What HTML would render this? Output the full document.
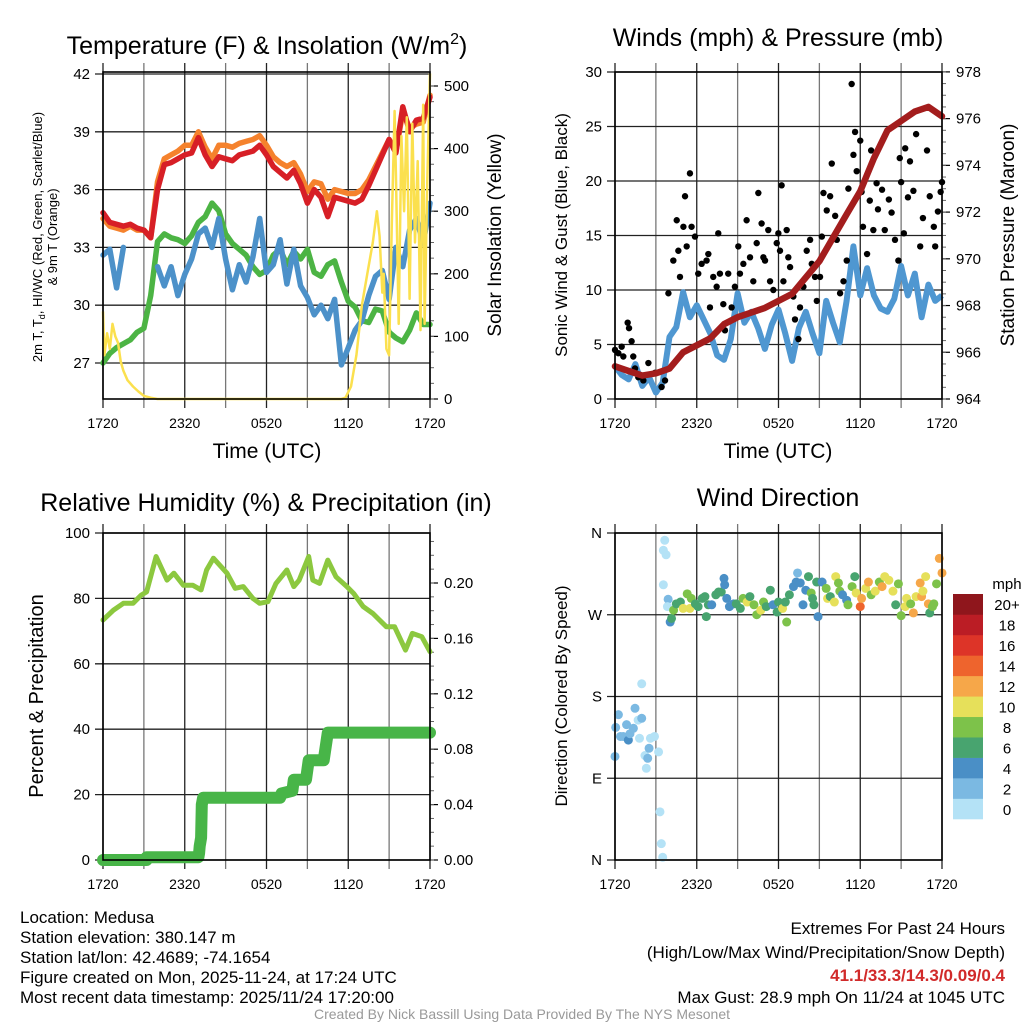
<!DOCTYPE html>
<html><head><meta charset="utf-8"><style>
html,body{margin:0;padding:0;background:#fff;}
svg{display:block;font-family:"Liberation Sans",Arial,sans-serif;}
</style></head><body>
<svg id="fig" width="1024" height="1024" viewBox="0 0 1024 1024" xmlns="http://www.w3.org/2000/svg">
<rect width="1024" height="1024" fill="#fff"/>
<g id="p1"></g>
<g id="p2"></g>
<g id="p3"></g>
<g id="p4"></g>
<text x="267" y="54" font-size="25" text-anchor="middle">Temperature (F) &amp; Insolation (W/m<tspan dy="-10" font-size="16">2</tspan><tspan dy="10">)</tspan></text>
<text x="778" y="46" font-size="25" text-anchor="middle">Winds (mph) &amp; Pressure (mb)</text>
<text x="266" y="511" font-size="25" text-anchor="middle">Relative Humidity (%) &amp; Precipitation (in)</text>
<text x="778" y="506" font-size="25" text-anchor="middle">Wind Direction</text>
<text x="267" y="458" font-size="21" text-anchor="middle">Time (UTC)</text>
<text x="778" y="458" font-size="21" text-anchor="middle">Time (UTC)</text>
<text transform="translate(42,237) rotate(-90)" font-size="13" text-anchor="middle">2m T, T<tspan font-size="9" dy="3">d</tspan><tspan dy="-3">, HI/WC (Red, Green, Scarlet/Blue)</tspan></text>
<text transform="translate(57,237) rotate(-90)" font-size="13" text-anchor="middle">&amp; 9m T (Orange)</text>
<text transform="translate(501,235) rotate(-90)" font-size="19" text-anchor="middle">Solar Insolation (Yellow)</text>
<text transform="translate(567,235) rotate(-90)" font-size="17" text-anchor="middle">Sonic Wind &amp; Gust (Blue, Black)</text>
<text transform="translate(1014,235) rotate(-90)" font-size="19" text-anchor="middle">Station Pressure (Maroon)</text>
<text transform="translate(43,696) rotate(-90)" font-size="20" text-anchor="middle">Percent &amp; Precipitation</text>
<text transform="translate(567,696) rotate(-90)" font-size="17" text-anchor="middle">Direction (Colored By Speed)</text>
<g id="cbar"></g>
<text x="1007" y="589" font-size="15" text-anchor="middle">mph</text>
<g font-size="17">
<text x="20" y="923">Location: Medusa</text>
<text x="20" y="943">Station elevation: 380.147 m</text>
<text x="20" y="963">Station lat/lon: 42.4689; -74.1654</text>
<text x="20" y="983">Figure created on Mon, 2025-11-24, at 17:24 UTC</text>
<text x="20" y="1003">Most recent data timestamp: 2025/11/24 17:20:00</text>
</g>
<g font-size="17" text-anchor="end">
<text x="1005" y="934">Extremes For Past 24 Hours</text>
<text x="1005" y="958">(High/Low/Max Wind/Precipitation/Snow Depth)</text>
<text x="1005" y="981" fill="#d12a2a" font-weight="bold">41.1/33.3/14.3/0.09/0.4</text>
<text x="1005" y="1003">Max Gust: 28.9 mph On 11/24 at 1045 UTC</text>
</g>
<text x="522" y="1019" font-size="14" fill="#999" text-anchor="middle">Created By Nick Bassill Using Data Provided By The NYS Mesonet</text>
</svg>
<script>
// ---- data ----
var halfHours = [0,0.5,1,1.5,2,2.5,3,3.5,4,4.5,5,5.5,6,6.5,7,7.5,8,8.5,9,9.5,10,10.5,11,11.5,12,12.5,13,13.5,14,14.5,15,15.5,16,16.5,17,17.5,18,18.5,19,19.5,20,20.5,21,21.5,22,22.5,23,23.5,24];
var timeTickLabels = ["1720","2320","0520","1120","1720"];
var timeTickHours = [0,6,12,18,24];
var tempRed = [34.8,34.3,34.2,34.1,34.2,34.0,33.9,33.5,36.0,37.3,37.4,37.6,37.8,37.9,38.7,37.8,37.2,37.7,37.6,37.5,37.8,37.9,38.0,38.3,37.8,37.2,36.9,36.6,37.0,36.3,35.3,36.0,35.6,34.6,35.6,35.5,35.4,35.3,35.5,36.2,37.0,37.8,38.6,37.9,40.3,39.0,39.6,39.7,40.8];
var tempOrange = [34.5,34.1,34.0,33.9,34.1,33.9,33.9,33.5,36.4,37.6,37.8,38.0,38.3,38.3,39.0,38.2,37.6,38.3,38.3,38.2,38.4,38.5,38.6,38.8,38.3,37.7,37.4,37.2,37.4,36.8,35.9,36.4,36.3,35.5,36.0,35.9,35.8,35.8,36.0,36.5,37.2,37.9,38.6,38.0,40.0,39.2,39.4,39.5,40.9];
var tempGreen = [27.0,27.5,27.8,28.0,28.2,28.6,28.8,30.5,33.3,33.7,33.5,33.4,33.2,33.6,34.3,34.6,35.3,34.9,33.7,33.2,32.9,32.6,32.0,31.6,31.8,32.6,32.9,32.1,32.8,32.4,32.9,31.7,31.5,32.1,32.3,31.2,30.2,29.9,29.2,29.1,29.8,29.7,28.6,28.3,28.1,28.7,29.6,29.0,29.0];
var tempBlue = [32.6,32.9,30.9,33.0,null,null,null,null,32.0,31.0,32.0,30.5,31.6,32.4,33.7,34.0,33.0,34.5,32.4,30.8,32.1,31.2,32.5,34.5,31.7,32.1,33.4,31.1,32.9,31.0,30.4,29.5,30.0,29.3,30.3,26.9,27.8,28.7,29.2,30.5,31.5,31.8,30.3,33.0,32.0,33.9,34.5,33.2,35.3];
var solarHours = [0,0.1,0.3,0.5,0.7,0.9,1.1,1.3,1.5,1.8,2.2,2.6,3.0,3.5,4.0,17.5,17.8,18.2,18.6,19.0,19.4,19.8,20.1,20.3,20.5,20.6,20.8,21.0,21.2,21.4,21.5,21.7,21.9,22.1,22.3,22.5,22.7,22.9,23.1,23.3,23.5,23.6,23.8,24];
var solarVals = [140,70,105,80,120,100,90,60,45,30,20,12,5,2,0,0,2,20,70,150,200,250,300,260,170,200,80,70,280,460,360,120,420,300,450,160,440,250,380,110,470,120,350,520];
var tempTicks = [27,30,33,36,39,42];
var solarTicks = [0,100,200,300,400,500];
var windVals = [3.0,2.2,1.8,3.2,1.2,2.0,0.6,1.5,5.7,6.6,9.8,7.5,8.6,7.3,6.0,4.0,3.6,5.5,9.7,7.0,8.0,6.5,4.6,6.8,8.2,6.0,3.5,6.5,8.0,6.0,4.2,9.0,7.0,5.2,9.0,14.0,9.5,12.0,9.5,8.3,8.0,9.2,12.2,9.5,11.5,7.5,10.5,9.0,9.5];
var pressHours = [0,1,2,3,4,5,6,7,8,9,10,11,12,13,14,15,16,17,18,19,20,21,22,23,24];
var pressVals = [965.4,965.2,965.0,965.1,965.3,966.0,966.3,966.6,967.2,967.5,967.7,967.9,968.2,968.5,969.2,969.9,970.9,971.9,972.9,974.3,975.5,975.9,976.3,976.5,976.1];
var gustHours = [0,0.25,0.49,0.61,0.93,1.03,1.22,1.34,1.47,1.71,2.08,2.45,2.93,3.42,3.67,3.92,4.28,4.53,4.65,4.77,5.02,5.14,5.26,5.5,5.62,5.87,6.11,6.36,6.72,6.85,6.97,7.21,7.46,7.58,7.7,7.95,8.07,8.31,8.56,8.8,9.05,9.17,9.42,9.66,9.91,10.15,10.4,10.52,10.76,10.89,11.01,11.25,11.38,11.62,11.87,11.99,12.11,12.23,12.36,12.6,12.72,12.85,13.09,13.21,13.46,13.58,13.83,14.07,14.32,14.44,14.68,14.81,15.05,15.18,15.3,15.54,15.79,15.91,16.16,16.28,16.52,16.77,17.01,17.13,17.37,17.5,17.62,17.74,18.0,18.1,18.2,18.5,18.7,18.8,18.96,19.2,19.3,19.6,19.8,20.1,20.3,20.55,20.8,20.9,21.0,21.2,21.3,21.5,21.65,21.9,22.1,22.4,22.6,22.9,23.1,23.4,23.5,23.7,23.9,24];
var gustVals = [4.5,4.2,4.8,3.9,7.0,6.5,5.3,3.9,2.8,2.0,1.7,3.3,2.4,1.1,1.7,9.7,12.7,16.4,13.6,11.2,15.8,18.6,14.0,20.7,15.8,14.9,11.5,12.4,12.7,13.3,8.4,11.2,10.3,15.2,11.5,8.7,6.3,11.5,8.4,10.3,14.0,11.5,12.4,16.4,13.0,10.8,14.3,18.9,16.1,13.0,12.7,15.5,10.8,10.0,14.3,15.2,13.6,19.6,10.8,15.5,13.0,12.1,9.4,7.3,5.5,8.4,10.3,13.6,14.6,12.4,11.2,9.0,11.2,14.9,18.9,17.3,18.6,21.6,16.8,14.6,9.7,10.8,12.7,19.3,28.9,22.4,24.5,20.9,23.7,19.0,15.8,13.3,18.2,22.8,15.5,19.8,17.4,19.2,15.5,18.3,17.1,14.6,12.7,22.1,19.9,15.2,23.0,18.5,21.8,19.1,24.3,14.0,16.6,22.8,18.6,15.8,14.0,17.2,19.0,19.9];
var windTicks = [0,5,10,15,20,25,30];
var pressTicks = [964,966,968,970,972,974,976,978];
var rhHours = [0,0.76,1.5,2.2,2.8,3.2,3.9,4.7,5.2,5.9,6.6,7.2,7.6,8.1,9.1,9.7,10.3,11,11.5,12.1,12.7,13.5,14,14.4,15.1,15.4,15.9,16.5,17.1,17.9,18.4,19.1,19.8,20.8,21.4,22.2,22.7,23.4,24];
var rhVals = [73.4,76.4,78.5,78.5,81,82,92.8,85.6,87.7,84,84,82.6,88.7,92.3,87.7,83.1,83.6,80,78.5,79,84.6,88.7,83.6,85.6,92.8,85.6,84.6,91.7,86.6,83.6,81.5,77.5,75.4,71.3,71.3,64.2,69.3,68.3,63.7];
var precipHours = [0,3.2,3.2,7.0,7.05,7.1,7.2,7.25,7.35,13.0,13.1,13.9,14.0,14.9,15.1,16.2,16.5,24];
var precipVals = [0,0,0.002,0.002,0.005,0.01,0.016,0.04,0.045,0.045,0.048,0.05,0.058,0.058,0.072,0.072,0.092,0.092];
var rhTicks = [0,20,40,60,80,100];
var precipTicks = ["0.00","0.04","0.08","0.12","0.16","0.20"];
var dirHours = [0,0.05,0.25,0.4,0.6,0.85,0.98,1.1,1.35,1.47,1.7,1.8,1.96,1.96,2.2,2.3,2.4,2.5,2.6,2.9,3.2,3.3,3.4,3.5,3.55,3.65,3.75,3.55,3.9,3.85,4.05,4.15,4.3,4.5,4.8,5.0,5.3,5.5,5.6,5.9,6.1,6.4,6.6,6.7,6.85,7.1,7.4,7.6,7.8,8.0,8.05,8.2,8.4,8.7,8.9,9.2,9.4,9.7,9.9,10.2,10.4,10.7,10.9,11.1,11.4,11.6,11.9,12.0,12.3,12.5,12.6,12.8,13.1,13.3,13.4,13.6,13.8,14.0,14.2,14.4,14.5,14.6,14.8,14.9,15.2,15.5,15.6,15.8,16.1,16.2,16.4,16.5,16.7,17.0,17.1,17.4,17.6,17.7,18.0,18.1,18.4,18.6,18.8,19.1,19.4,19.6,19.8,20.1,20.4,20.6,20.8,21.0,21.3,21.4,21.7,21.9,22.1,22.4,22.5,22.6,22.8,23.0,23.1,23.3,23.4,23.6,23.8,24.0];
var dirVals = [114,146,160,136,136,149,132,139,145,167,154,134,194,156,115,101,112,123,134,136,119,53,18,3,341,352,336,303,287,279,262,266,275,282,284,277,293,277,288,282,279,288,290,268,281,281,292,295,295,310,303,288,279,282,282,277,288,284,290,281,270,275,284,279,297,281,273,284,277,284,262,292,301,306,316,305,281,297,312,294,288,281,306,268,306,299,288,290,284,312,305,296,292,286,281,301,312,294,279,288,299,306,292,296,306,301,312,308,296,281,304,269,279,288,282,272,290,305,290,296,312,282,272,279,282,304,332,316,327,323];
var dirSpeeds = [3,2,2,2,2,3,4,3,2,2,1,1,1,2,1,0,3,3,1,0,1,0,0,0,0,0,1,1,3,1,5,6,8,7,6,10,8,10,8,7,6,6,6,6,7,5,7,7,6,4,4,4,4,5,6,7,8,10,7,8,8,10,8,6,6,5,6,7,10,7,8,6,4,4,3,4,4,5,6,8,7,6,6,4,4,8,10,6,10,10,8,9,4,5,8,8,7,10,14,12,10,12,8,10,8,12,10,10,10,7,8,8,10,10,8,12,10,12,12,10,10,12,6,8,8,8,12,12,7,10,10,10];
var dirTickLabels = ["N","E","S","W","N"];
var dirTickVals = [0,90,180,270,360];
var speedBins = ["0","2","4","6","8","10","12","14","16","18","20+"];
var speedColors = ["#b4e2f6","#7bb9e2","#4a8fc6","#48a46f","#7dc24a","#e6e05a","#f6a749","#ee642d","#dd3428","#bb1d25","#8f161c"];

// ---- helpers ----
var NS = "http://www.w3.org/2000/svg";
function mk(parent, tag, attrs){ var e=document.createElementNS(NS,tag); for(var k in attrs){e.setAttribute(k,attrs[k]);} parent.appendChild(e); return e; }
function xScale(x0,w){ return function(h){ return x0 + h/24*w; }; }
function yScale(y0,y1,v0,v1){ return function(v){ return y0 + (v-v0)/(v1-v0)*(y1-y0); }; }
function pathD(xs,ys,fx,fy){ var d="",pen=false; for(var i=0;i<xs.length;i++){ if(ys[i]===null){pen=false;continue;} d+=(pen?"L":"M")+fx(xs[i]).toFixed(1)+","+fy(ys[i]).toFixed(1); pen=true;} return d; }

function frame(g, x0, y0, w, h, fx, hTicksY, leftLabels, leftYs){
  for(var k=0;k<=8;k++){
    var x=fx(k*3);
    var gl=mk(g,"line",{x1:x,y1:y0-9,x2:x,y2:y0+h+9,stroke:(k%2? "#777":"#222"),"stroke-width":1.3});
    
    
  }
  for(var i=0;i<hTicksY.length;i++){
    var hl=mk(g,"line",{x1:x0-8,y1:hTicksY[i],x2:x0+w,y2:hTicksY[i],stroke:"#222","stroke-width":1.3});
    
    
  }
  for(var j=0;j<leftLabels.length;j++){
    var t=mk(g,"text",{x:x0-13,y:leftYs[j]+5,"font-size":15,"text-anchor":"end"});
    t.textContent=leftLabels[j];
    
    
  }
  for(var m=0;m<timeTickHours.length;m++){
    var tl=mk(g,"text",{x:fx(timeTickHours[m]),y:y0+h+29,"font-size":14,"text-anchor":"middle"});
    tl.textContent=timeTickLabels[m];
    
    
  }
}
function border(g,x0,y0,w,h){
  var b=mk(g,"rect",{x:x0,y:y0,width:w,height:h,fill:"none",stroke:"#000","stroke-width":1.6});
  
  
}
function rightAxis(g,x,ys,labels,minorYs){
  for(var i=0;i<ys.length;i++){
    mk(g,"line",{x1:x,y1:ys[i],x2:x+8,y2:ys[i],stroke:"#000","stroke-width":1.2});
    var t=mk(g,"text",{x:x+14,y:ys[i]+5,"font-size":15});
    t.textContent=labels[i];
    
    
  }
  for(var j=0;j<minorYs.length;j++){ mk(g,"line",{x1:x,y1:minorYs[j],x2:x+4,y2:minorYs[j],stroke:"#666","stroke-width":1}); }
}

// ---- Panel 1 ----
(function(){
  var g=document.getElementById("p1"), x0=103,y0=72,w=327,h=327;
  var fx=xScale(x0,w), fy=yScale(74,363,42,27), fs=yScale(399,86,0,500);
  var ys=tempTicks.map(fy);
  frame(g,x0,y0,w,h,fx,ys,tempTicks,ys);
  var minor=[]; for(var v=0;v<=520;v+=25){ minor.push(fs(v)); }
  rightAxis(g,x0+w,solarTicks.map(fs),solarTicks,minor);
  var series=[[tempOrange,"#f5822d","orange-9m-temp-line"],[tempRed,"#d71f26","red-2m-temp-line"],[tempGreen,"#4cb444","green-hiwc-line"],[tempBlue,"#4c91c9","blue-dewpoint-line"]];
  series.forEach(function(s){
    var p=mk(g,"path",{d:pathD(halfHours,s[0],fx,fy),fill:"none",stroke:s[1],"stroke-width":5.5,"stroke-linejoin":"round","stroke-linecap":"round"});
    
    
  });
  var sp=mk(g,"path",{d:pathD(solarHours,solarVals,fx,fs),fill:"none",stroke:"#fbe04e","stroke-width":2.5,"stroke-linejoin":"round"});
  
  
  border(g,x0,y0,w,h);
})();

// ---- Panel 2 ----
(function(){
  var g=document.getElementById("p2"), x0=615,y0=72,w=327,h=327;
  var fx=xScale(x0,w), fy=yScale(399,72,0,30), fp=yScale(399,71.9,964,978);
  var ys=windTicks.map(fy);
  frame(g,x0,y0,w,h,fx,ys,windTicks,ys);
  var minor=[]; for(var v=964;v<=978;v+=0.5){ minor.push(fp(v)); }
  rightAxis(g,x0+w,pressTicks.map(fp),pressTicks,minor);
  var wl=mk(g,"path",{d:pathD(halfHours,windVals,fx,fy),fill:"none",stroke:"#4f97d1","stroke-width":6,"stroke-linejoin":"round"});
  
  
  for(var i=0;i<gustHours.length;i++){
    var c=mk(g,"circle",{cx:fx(gustHours[i]),cy:fy(gustVals[i]),r:3.2,fill:"#000"});
    
    
  }
  var pl=mk(g,"path",{d:pathD(pressHours,pressVals,fx,fp),fill:"none",stroke:"#a31d1d","stroke-width":6.5,"stroke-linejoin":"round","stroke-linecap":"round"});
  
  
  border(g,x0,y0,w,h);
})();

// ---- Panel 3 ----
(function(){
  var g=document.getElementById("p3"), x0=103,y0=533,w=327,h=327;
  var fx=xScale(x0,w), fy=yScale(860,533,0,100), fp=yScale(860,583,0,0.2);
  var ys=rhTicks.map(fy);
  frame(g,x0,y0,w,h,fx,ys,rhTicks,ys);
  var minor=[]; for(var v=0;v<=0.236;v+=0.01){ minor.push(fp(v)); }
  rightAxis(g,x0+w,precipTicks.map(function(s){return fp(parseFloat(s));}),precipTicks,minor);
  var rl=mk(g,"path",{d:pathD(rhHours,rhVals,fx,fy),fill:"none",stroke:"#8cc83f","stroke-width":5,"stroke-linejoin":"round","stroke-linecap":"round"});
  
  
  var pr=mk(g,"path",{d:pathD(precipHours,precipVals,fx,fp),fill:"none",stroke:"#48b548","stroke-width":12,"stroke-linejoin":"round","stroke-linecap":"round"});
  
  
  border(g,x0,y0,w,h);
})();

// ---- Panel 4 ----
(function(){
  var g=document.getElementById("p4"), x0=615,y0=533,w=327,h=327;
  var fx=xScale(x0,w), fy=yScale(860,533,0,360);
  var ys=dirTickVals.map(fy);
  frame(g,x0,y0,w,h,fx,ys,dirTickLabels,ys);
  for(var i=0;i<dirHours.length;i++){
    var bin=Math.min(10,Math.floor(dirSpeeds[i]/2));
    var c=mk(g,"circle",{cx:fx(dirHours[i]),cy:fy(dirVals[i]),r:4.5,fill:speedColors[bin]});
    
    
  }
  border(g,x0,y0,w,h);
  var cb=document.getElementById("cbar");
  var bh=225/speedBins.length;
  for(var k=0;k<speedBins.length;k++){
    var yb=819-(k+1)*bh;
    var r=mk(cb,"rect",{x:953,y:yb,width:30,height:bh+0.3,fill:speedColors[k]});
    
    
    var t=mk(cb,"text",{x:1007,y:yb+bh/2+6,"font-size":15,"text-anchor":"middle"});
    t.textContent=speedBins[k];
    
    
  }
})();
</script>
</body></html>
